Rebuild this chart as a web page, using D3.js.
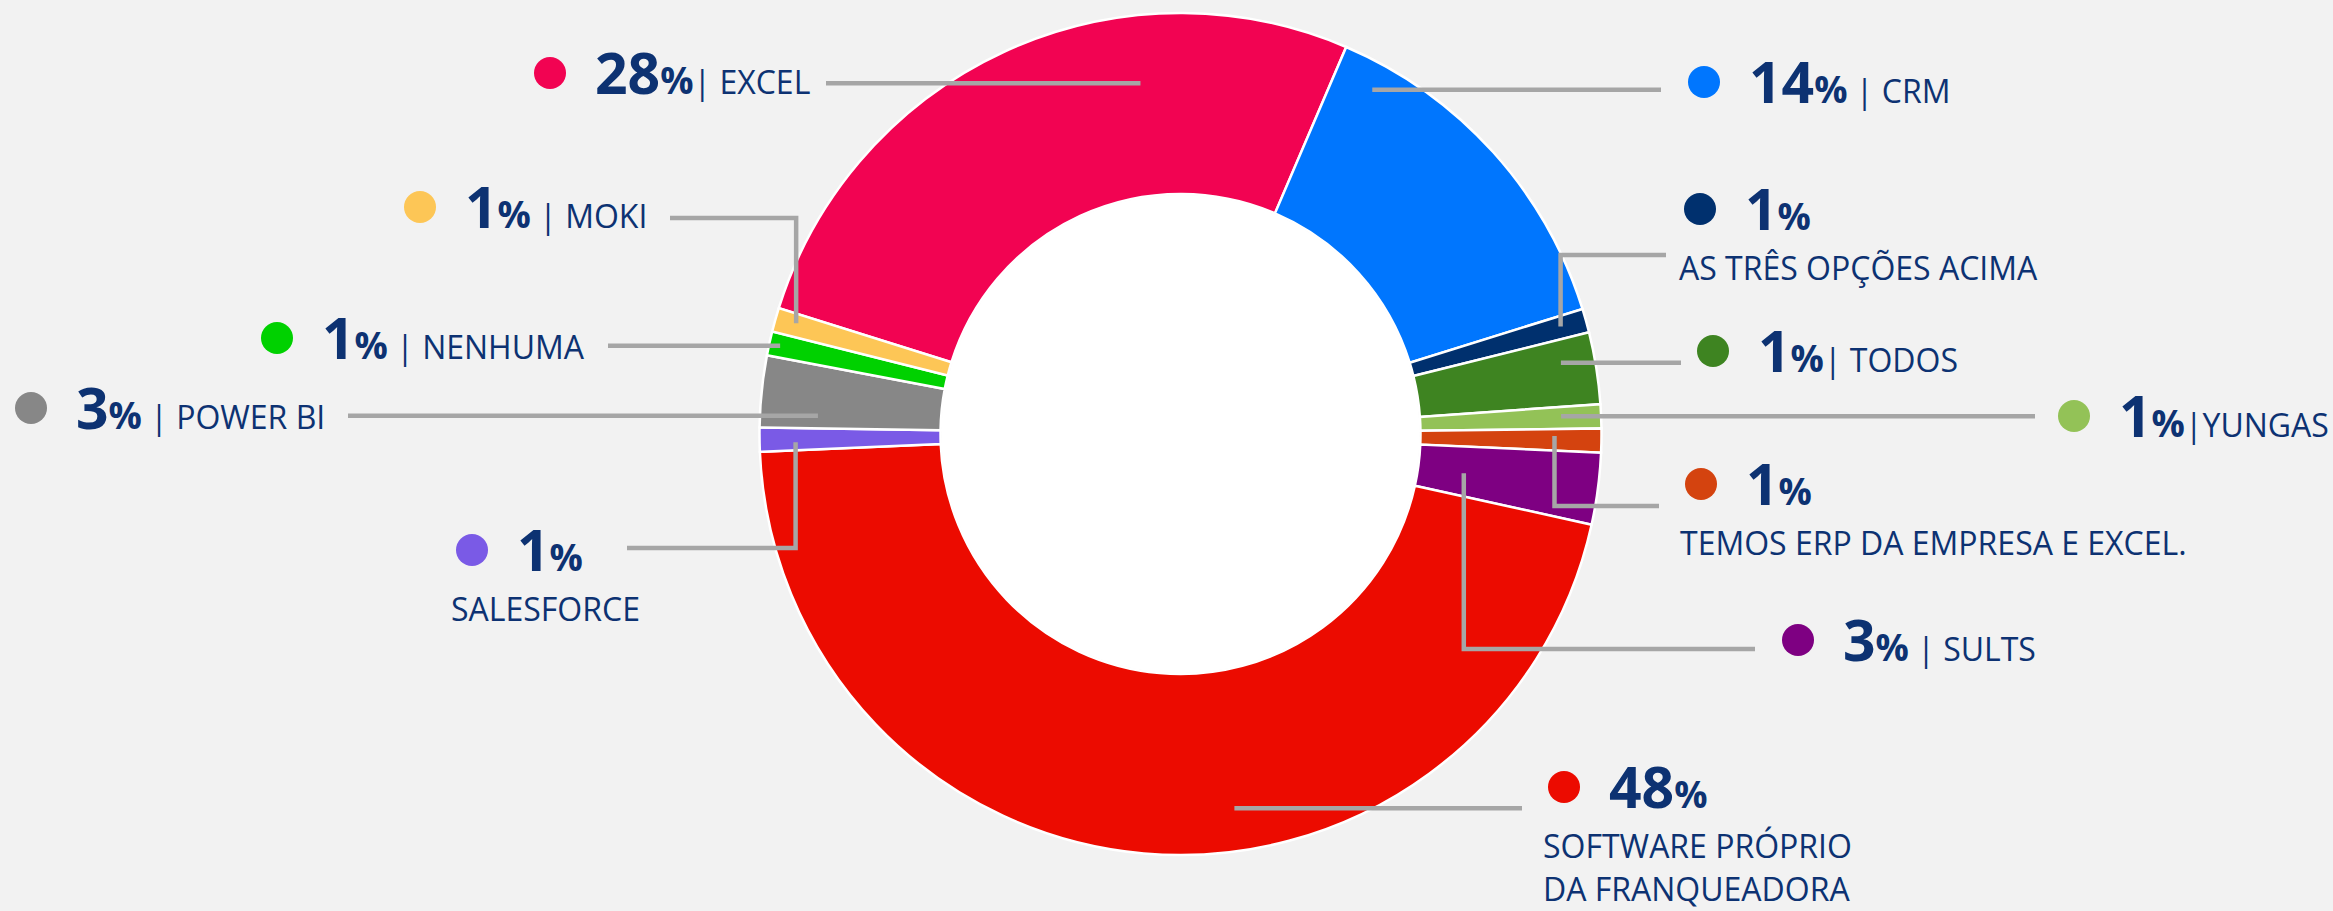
<!DOCTYPE html>
<html>
<head>
<meta charset="utf-8">
<script src="https://cdn.jsdelivr.net/npm/d3@7"></script>
<style>
  html, body { margin: 0; padding: 0; background: #f2f2f2; }
  svg { display: block; }
  text { font-family: "Open Sans", sans-serif; fill: #0d3272; white-space: pre; }
</style>
</head>
<body>
<div id="chart"></div>
<script>
var categories = ["EXCEL", "CRM", "AS TRÊS OPÇÕES ACIMA", "TODOS", "YUNGAS",
                  "TEMOS ERP DA EMPRESA E EXCEL.", "SULTS", "SOFTWARE PRÓPRIO DA FRANQUEADORA",
                  "SALESFORCE", "POWER BI", "NENHUMA", "MOKI"];
// slice sizes as read from the ring (answer counts)
var counts = [29, 15, 1, 3, 1, 1, 3, 50, 1, 3, 1, 1];
// percentages printed on the labels
var pctLabels = ["28", "14", "1", "1", "1", "1", "3", "48", "1", "3", "1", "1"];
var inlineText = ["| EXCEL", " | CRM", "", "| TODOS", "|YUNGAS", "", " | SULTS", "", "", " | POWER BI", " | NENHUMA", " | MOKI"];
var subLines = [[], [], ["AS TRÊS OPÇÕES ACIMA"], [], [], ["TEMOS ERP DA EMPRESA E EXCEL."], [],
                ["SOFTWARE PRÓPRIO", "DA FRANQUEADORA"], ["SALESFORCE"], [], [], []];
var colors = ["#f20352", "#0076fe", "#00306e", "#3e8421", "#93c257", "#d4430f",
              "#7e0082", "#ec0b00", "#7a5ae6", "#878787", "#00d100", "#fdc656"];

var width = 2333, height = 911,
    cx = 1180.5, cy = 434,
    outerR = 421, innerR = 240,
    startAngle = -72.6 * Math.PI / 180;

// where each label sits, and where its leader line grabs the slice
// t = fraction through the slice, r = radius of the grab point
var layout = [
  { x: 550,  y: 73,  t: 0.69, r: 353, end: 826 },
  { x: 1704, y: 82,  t: 0.12, r: 394, end: 1661 },
  { x: 1700, y: 209, t: 0.45, r: 395, end: 1666, elbow: 255 },
  { x: 1713, y: 351, t: 0.34, r: 387, end: 1681 },
  { x: 2074, y: 416, t: 0.42, r: 381, end: 2035 },
  { x: 1701, y: 484, t: 0.33, r: 374, end: 1659, elbow: 506 },
  { x: 1798, y: 640, t: 0.54, r: 286, end: 1755, elbow: 649 },
  { x: 1564, y: 787, t: 0.42, r: 378, end: 1522 },
  { x: 472,  y: 550, t: 0.36, r: 385, end: 627, elbow: 548 },
  { x: 31,   y: 408, t: 0.2,  r: 363, end: 348 },
  { x: 277,  y: 338, t: 0.5,  r: 410, end: 608 },
  { x: 420,  y: 207, t: 0.6,  r: 400, end: 670, elbow: 218 }
];

var svg = d3.select("#chart").append("svg")
    .attr("width", width)
    .attr("height", height);

svg.append("rect").attr("width", width).attr("height", height).attr("fill", "#f2f2f2");

var pie = d3.pie()
    .sort(null)
    .value(function (d) { return d; })
    .startAngle(startAngle)
    .endAngle(startAngle + 2 * Math.PI);

var arc = d3.arc().innerRadius(innerR).outerRadius(outerR);

var arcs = pie(counts);

var ring = svg.append("g").attr("transform", "translate(" + cx + "," + cy + ")");

ring.selectAll("path.slice")
    .data(arcs)
    .enter().append("path")
    .attr("class", "slice")
    .attr("d", arc)
    .attr("fill", function (d, i) { return colors[i]; })
    .attr("stroke", "#ffffff")
    .attr("stroke-width", 2.5);

// hole
ring.append("circle").attr("r", innerR - 1).attr("fill", "#ffffff");

// leader lines
svg.append("g").selectAll("path.leader")
    .data(arcs)
    .enter().append("path")
    .attr("class", "leader")
    .attr("fill", "none")
    .attr("stroke", "#a6a6a6")
    .attr("stroke-width", 4.5)
    .attr("d", function (d, i) {
      var L = layout[i];
      var a = d.startAngle + L.t * (d.endAngle - d.startAngle);
      var p = d3.pointRadial(a, L.r);
      var x0 = cx + p[0], y0 = cy + p[1];
      if (L.elbow != null) return "M" + x0 + "," + y0 + "V" + L.elbow + "H" + L.end;
      return "M" + x0 + "," + y0 + "H" + L.end;
    });

// labels
var lab = svg.append("g").selectAll("g.label")
    .data(categories)
    .enter().append("g")
    .attr("class", "label");

lab.append("circle")
    .attr("cx", function (d, i) { return layout[i].x; })
    .attr("cy", function (d, i) { return layout[i].y; })
    .attr("r", 16)
    .attr("fill", function (d, i) { return colors[i]; });

var head = lab.append("text")
    .attr("x", function (d, i) { return layout[i].x + 45; })
    .attr("y", function (d, i) { return layout[i].y + 21; });

head.append("tspan")
    .attr("font-size", 57).attr("font-weight", 700)
    .text(function (d, i) { return pctLabels[i]; });
head.append("tspan")
    .attr("font-size", 37).attr("font-weight", 700)
    .text("%");
head.append("tspan")
    .attr("font-size", 32)
    .text(function (d, i) { return inlineText[i]; });

lab.each(function (d, i) {
  var g = d3.select(this);
  subLines[i].forEach(function (s, k) {
    g.append("text")
      .attr("x", layout[i].x - 21)
      .attr("y", layout[i].y + 71 + k * 43)
      .attr("font-size", 32)
      .text(s);
  });
});
</script>
</body>
</html>
